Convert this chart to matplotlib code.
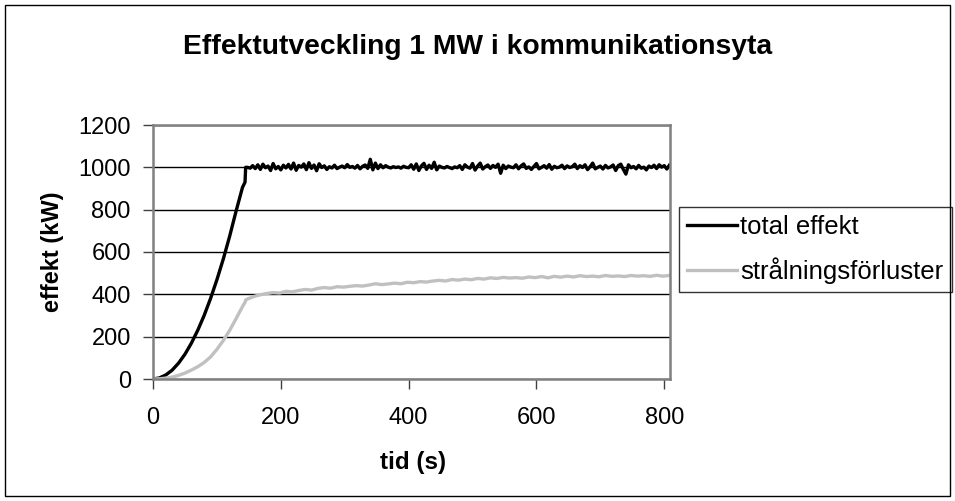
import numpy as np
import matplotlib
matplotlib.use("Agg")
import matplotlib.pyplot as plt
from matplotlib.patches import Rectangle

plt.rcParams['font.family'] = ['Liberation Sans', 'DejaVu Sans']

# growth phase (s, kW)
t_rise = [0, 10, 20, 30, 40, 50, 60, 70, 80, 90, 100, 110, 120, 130, 140, 144, 145]
total_rise = [0, 5, 19, 42, 75, 117, 169, 230, 300, 380, 469, 567, 675, 793, 905, 930, 1000]
rad_rise = [0, 1, 4, 9, 17, 28, 42, 58, 78, 104, 140, 182, 230, 285, 342, 362, 373]

# steady phase, total effect sampled every 4 s from 148 s
t_total = np.arange(148, 812, 4)
total_steady = [
    1000, 996, 1008, 994, 1012, 990, 1015, 998, 1006, 985, 1018, 993, 1004, 988, 1010, 997,
    1014, 992, 1020, 986, 1009, 1001, 1016, 989, 1022, 995, 1011, 984, 1017, 999, 1007, 990,
    1003, 997, 1010, 994, 1001, 1006, 998, 1013, 1000, 1004, 996, 1009, 993, 1005, 1011, 995,
    1038, 988, 1020, 994, 1012, 998, 1008, 1001, 997, 1003, 999, 1002, 996, 1005, 1000, 998,
    1012, 991, 1016, 985, 1007, 1019, 990, 1010, 995, 1024, 988, 1006, 1000, 997, 1004, 999,
    994, 1002, 998, 1008, 990, 1012, 1001, 996, 1018, 987, 1006, 1020, 992, 1003, 1011, 995,
    1009, 1000, 1015, 972, 1010, 994, 1006, 1001, 998, 1012, 993, 1007, 1016, 995, 1002, 990,
    1004, 1018, 993, 1000, 1008, 996, 1013, 991, 1005, 998, 1001, 1010, 994, 1007, 999, 1003,
    1015, 994, 1008, 999, 1012, 989, 1003, 1020, 993, 1000, 1006, 992, 1009, 997, 1002, 1011,
    985, 1008, 1015, 990, 968, 1012, 998, 1004, 993, 1009, 996, 1001, 988, 1006, 999, 1010,
    994, 1012, 1001, 1008, 992, 1010,
]

# steady phase, radiation losses sampled every 10 s from 148 s
t_rad = np.arange(148, 818, 10)
rad_steady = [
    378, 390, 398, 404, 408, 406, 414, 412, 418, 423,
    420, 428, 432, 429, 436, 434, 438, 441, 439, 444,
    450, 446, 449, 453, 450, 457, 455, 460, 458, 463,
    466, 463, 470, 467, 472, 469, 475, 472, 478, 475,
    480, 477, 479, 476, 482, 479, 484, 478, 485, 481,
    486, 482, 488, 484, 486, 483, 489, 485, 487, 484,
    489, 486, 488, 485, 490, 486, 489,
]

t_tot = list(t_rise) + list(t_total)
y_tot = total_rise + total_steady
t_r = list(t_rise) + list(t_rad)
y_r = rad_rise + rad_steady

W, H = 955, 501
fig = plt.figure(figsize=(W / 100, H / 100), dpi=100)
fig.patches.append(Rectangle((5 / W, 5 / H), 945 / W, 491 / H,
                             transform=fig.transFigure, fill=False,
                             edgecolor='black', linewidth=1))

ax = fig.add_axes([153 / W, 1 - 379 / H, 517 / W, 254 / H])
ax.plot(t_tot, y_tot, color='black', linewidth=2.4, label='total effekt')
ax.plot(t_r, y_r, color='#c0c0c0', linewidth=2.4, label='strålningsförluster')

ax.set_xlim(0, 809)
ax.set_ylim(0, 1200)
ax.set_xticks([0, 200, 400, 600, 800])
ax.set_yticks(range(0, 1201, 200))
ax.yaxis.grid(True, color='black', linewidth=1)
ax.set_axisbelow(True)

for side in ['top', 'right', 'left', 'bottom']:
    ax.spines[side].set_color('#808080')
    ax.spines[side].set_linewidth(1.8)
ax.tick_params(direction='out', length=7, width=1, color='#404040',
               labelsize=17)
ax.tick_params(axis='y', pad=9)
ax.tick_params(axis='x', pad=13)

fig.text(53 / W, 1 - 252 / H, 'effekt (kW)', rotation=90, ha='center',
         va='center', fontsize=17, fontweight='bold')
fig.text(413 / W, 1 - 462 / H, 'tid (s)', ha='center', va='center',
         fontsize=17.5, fontweight='bold')
fig.text(478 / W, 1 - 47 / H, 'Effektutveckling 1 MW i kommunikationsyta',
         ha='center', va='center', fontsize=20.3, fontweight='bold')

leg = ax.legend(loc='upper left', bbox_to_anchor=(679 / W, 1 - 207 / H),
                bbox_transform=fig.transFigure, fontsize=18.5, frameon=True,
                fancybox=False, edgecolor='black', handlelength=1.95,
                handletextpad=0.12, labelspacing=0.7, borderpad=0.32,
                borderaxespad=0)
leg.get_frame().set_linewidth(1)

fig.savefig('out.png', dpi=100)
